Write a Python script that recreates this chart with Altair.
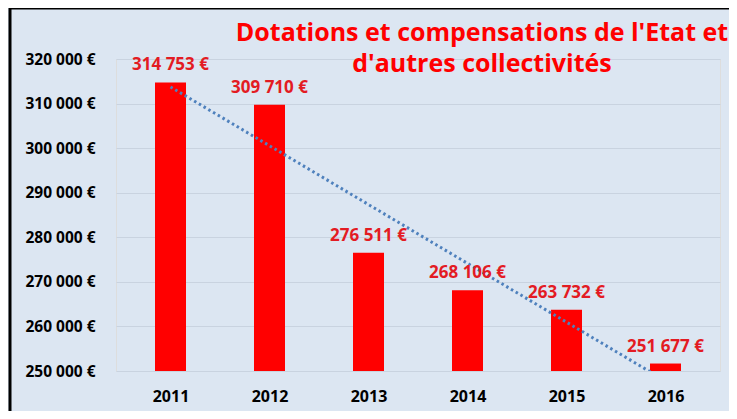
import altair as alt
import pandas as pd

years = [2011, 2012, 2013, 2014, 2015, 2016]
values = [314753, 309710, 276511, 268106, 263732, 251677]
y_ticks = [250000, 260000, 270000, 280000, 290000, 300000, 310000, 320000]
title_lines = ["Dotations et compensations de l'Etat et", "d'autres collectivités"]

df = pd.DataFrame({"year": years, "value": values})

FONT = "Open Sans"
BG = "#dce6f2"

xscale = alt.Scale(domain=[2010.5, 2016.5], nice=False, zero=False)
yscale = alt.Scale(domain=[250000, 320000], nice=False, zero=False)

base = alt.Chart(df)

bars = base.mark_bar(color="#ff0000", size=31, clip=True).encode(
    x=alt.X("year:Q", scale=xscale,
            axis=alt.Axis(values=years, format="d", title=None, grid=False, domain=False,
                          ticks=False, labelPadding=17, labelFont=FONT, labelFontSize=16,
                          labelFontWeight="bold", labelColor="#000000")),
    y=alt.Y("value:Q", scale=yscale,
            axis=alt.Axis(values=y_ticks, format="$,.0f", title=None, domain=False, ticks=False,
                          labelPadding=21, labelFont=FONT, labelFontSize=15.5, labelFontWeight="bold",
                          labelColor="#000000", gridColor="#c9d3e0", gridWidth=1)),
    y2=alt.datum(250000),
)

labels = base.mark_text(color="#e31b23", font=FONT, fontSize=17, fontWeight="bold",
                        baseline="alphabetic", dy=-12).encode(
    x="year:Q",
    y="value:Q",
    text=alt.Text("value:Q", format="$,.0f"),
)

trend = base.transform_regression("year", "value", method="linear").mark_line(
    color="#4f81bd", strokeWidth=3, strokeDash=[2.5, 3], clip=True
).encode(x="year:Q", y="value:Q")

frame = alt.Chart(pd.DataFrame({"a": [0]}))
left_border = frame.mark_rule(color="#000000", strokeWidth=3).encode(
    x=alt.value(-106), y=alt.value(-52), y2=alt.value(360))
top_border = frame.mark_rule(color="#000000", strokeWidth=3).encode(
    x=alt.value(-107), x2=alt.value(620), y=alt.value(-51))

chart = alt.layer(bars, trend, labels, left_border, top_border).properties(
    width=604,
    height=312,
    autosize=alt.AutoSizeParams(type="none"),
    padding={"left": 108, "top": 51, "right": 9, "bottom": 40},
    background=BG,
    title=alt.TitleParams(
        text=title_lines, anchor="middle", frame="group", dx=64, dy=75,
        font=FONT, fontSize=25, fontWeight="bold", color="#ff0000", lineHeight=31,
    ),
).configure_view(stroke=None).configure(
    locale={"number": {"decimal": ",", "thousands": "\u00a0", "grouping": [3],
                       "currency": ["", "\u00a0€"]}}
)

chart.save("out.html", embed_options={"renderer": "svg", "actions": False})
